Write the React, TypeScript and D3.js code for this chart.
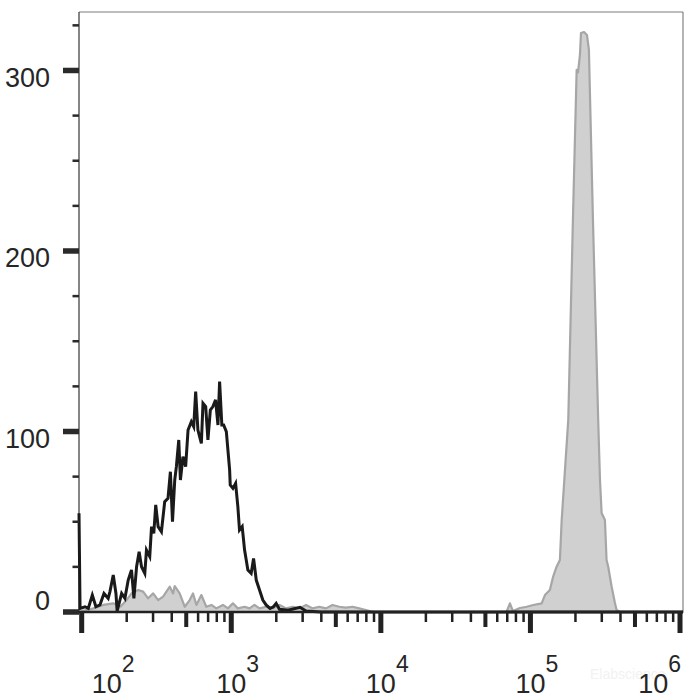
import React from "react";
import * as d3 from "d3";

// ---- Data (log10 of fluorescence intensity, event count) ----
const isotypeLogX = [
  1.982, 1.989, 2.022, 2.044, 2.071, 2.095, 2.122, 2.149, 2.177, 2.189, 2.211, 2.229, 2.237,
  2.267, 2.289, 2.311, 2.333, 2.349, 2.367, 2.384, 2.4, 2.422, 2.433, 2.455, 2.467, 2.482,
  2.495, 2.511, 2.533, 2.555, 2.577, 2.593, 2.607, 2.622, 2.633, 2.649, 2.66, 2.677, 2.695,
  2.711, 2.733, 2.749, 2.762, 2.777, 2.8, 2.811, 2.829, 2.844, 2.86, 2.877, 2.895, 2.911,
  2.922, 2.937, 2.949, 2.967, 2.989, 2.993, 3.011, 3.029, 3.044, 3.055, 3.073, 3.089, 3.111,
  3.133, 3.149, 3.167, 3.189, 3.211, 3.233, 3.259, 3.282, 3.3, 3.322, 3.38, 3.459, 3.5, 3.6,
  6.02,
];
const isotypeCount = [
  54.7, 2.0, 2.9, 2.0, 9.4, 2.9, 3.9, 10.3, 7.6, 11.3, 20.5, 10.3, 0.5,
  10.3, 7.6, 17.7, 23.3, 7.6, 25.1, 33.4, 25.1, 21.4, 34.3, 30.7, 47.3, 43.6,
  59.3, 47.3, 44.5, 61.1, 63.0, 77.7, 50.0, 73.1, 80.5, 95.3, 73.1, 86.1, 80.5,
  100.8, 105.4, 102.7, 122.1, 100.8, 93.4, 115.6, 113.8, 95.3, 111.9, 113.8, 117.5, 103.6,
  127.6, 103.6, 103.6, 99.9, 78.7, 70.4, 68.5, 71.3, 58.4, 45.4, 47.3, 34.3, 23.3,
  21.4, 29.7, 17.7, 12.2, 6.6, 3.9, 2.0, 2.9, 4.8, 1.5, 1.0, 2.6, 0.5, 0,
  0,
];

const stainedLogX = [
  1.982, 2.0, 2.078, 2.144, 2.211, 2.26, 2.3, 2.333, 2.378, 2.411, 2.444, 2.478, 2.511,
  2.544, 2.589, 2.611, 2.622, 2.655, 2.689, 2.722, 2.744, 2.767, 2.8, 2.833, 2.867, 2.9,
  2.944, 2.978, 3.011, 3.044, 3.089, 3.122, 3.155, 3.189, 3.233, 3.278, 3.322, 3.367, 3.411,
  3.455, 3.5, 3.544, 3.589, 3.633, 3.677, 3.722, 3.766, 3.811, 3.855, 3.9, 3.95, 4.84,
  4.863, 4.883, 4.93, 4.975, 5.019, 5.075, 5.097, 5.13, 5.152, 5.175, 5.197, 5.209, 5.231,
  5.253, 5.284, 5.309, 5.318, 5.331, 5.338, 5.358, 5.378, 5.391, 5.418, 5.453, 5.465, 5.476,
  5.498, 5.509, 5.52, 5.543, 5.565, 5.576, 5.6, 6.02,
];
const stainedCount = [
  0, 0.5, 2.0, 3.9, 4.8, 3.0, 6.6, 10.3, 12.2, 11.3, 7.6, 10.3, 6.6,
  8.5, 14.0, 10.3, 14.4, 10.3, 2.9, 6.6, 10.3, 3.9, 9.4, 2.9, 3.9, 2.0,
  3.9, 2.0, 4.8, 2.0, 2.9, 2.0, 3.9, 2.0, 2.9, 2.0, 3.9, 2.0, 2.9,
  2.0, 3.9, 2.0, 2.9, 2.0, 3.9, 2.9, 2.4, 2.9, 2.0, 1.1, 0, 0,
  4.8, 0.5, 2.2, 2.9, 3.9, 4.8, 9.4, 12.2, 19.6, 25.1, 28.8, 51.0, 78.7,
  106.4, 217.2, 300.3, 299.0, 308.6, 320.8, 321.3, 319.7, 311.4, 217.2, 106.4, 73.1, 54.8,
  51.0, 28.8, 25.1, 14.0, 5.0, 1.1, 0, 0,
];

const yTickValues = [0, 25, 50, 75, 100, 125, 150, 175, 200, 225, 250, 275, 300, 325];
const yTickLabels = ["0", "100", "200", "300"];
const xDecades = [2, 3, 4, 5, 6];
const watermark = "Elabscience";

// ---- Layout ----
const W = 700;
const H = 700;
const plotLeft = 79;
const plotRight = 683;
const plotTop = 12;
const plotBottom = 612;
const FONT = "'Liberation Sans', Arial, sans-serif";

export default function App() {
  const x = d3
    .scaleLog()
    .domain([Math.pow(10, 1.982), Math.pow(10, 6.02)])
    .range([plotLeft, plotRight]);
  const y = d3.scaleLinear().domain([0, 332.4]).range([plotBottom, plotTop]);

  const stained = stainedLogX.map((l, i) => ({ v: Math.pow(10, l), c: stainedCount[i] }));
  const isotype = isotypeLogX.map((l, i) => ({ v: Math.pow(10, l), c: isotypeCount[i] }));

  const area = d3
    .area<{ v: number; c: number }>()
    .x((d) => x(d.v))
    .y0(y(0))
    .y1((d) => y(d.c));
  const line = d3
    .line<{ v: number; c: number }>()
    .x((d) => x(d.v))
    .y((d) => y(d.c));

  const xTicks = x.ticks();
  const isPow10 = (v: number) => Math.abs(Math.log10(v) - Math.round(Math.log10(v))) < 1e-6;
  const isFive = (v: number) => {
    const m = v / Math.pow(10, Math.floor(Math.log10(v) + 1e-9));
    return Math.abs(m - 5) < 1e-6;
  };

  return (
    <svg
      width={W}
      height={H}
      style={{ position: "absolute", left: 0, top: 0, background: "#fff" }}
      fontFamily={FONT}
    >
      <rect x={0} y={0} width={W} height={H} fill="#fff" />
      {/* watermark (faint, behind) */}
      <text x={590} y={679} fontSize={14} fill="#f2f2f2">
        {watermark}
      </text>

      {/* frame */}
      <line x1={plotLeft} x2={plotRight} y1={plotTop} y2={plotTop} stroke="#7a7a7a" strokeWidth={1} />
      <line x1={plotRight} x2={plotRight} y1={plotTop} y2={plotBottom} stroke="#6a6a6a" strokeWidth={1} />
      <line x1={plotLeft} x2={plotLeft} y1={plotTop} y2={plotBottom} stroke="#444" strokeWidth={1.3} />

      {/* stained histogram */}
      <path d={area(stained) || ""} fill="#d0d0d0" stroke="#a6a6a6" strokeWidth={2.2} strokeLinejoin="round" />
      {/* isotype control */}
      <path d={line(isotype) || ""} fill="none" stroke="#1a1a1a" strokeWidth={3} strokeLinejoin="miter" />

      {/* bottom axis line */}
      <line x1={plotLeft} x2={plotRight} y1={plotBottom} y2={plotBottom} stroke="#222" strokeWidth={2.5} />

      {/* x ticks */}
      {xTicks.map((t, i) => {
        const major = isPow10(t);
        const mid = !major && isFive(t);
        const w = major ? 5 : mid ? 4 : 2.5;
        const len = major ? 20 : mid ? 14 : 9;
        return (
          <rect
            key={"xt" + i}
            x={x(t) - w / 2}
            y={plotBottom + 1}
            width={w}
            height={len}
            fill="#222"
          />
        );
      })}

      {/* y ticks */}
      {yTickValues.map((t, i) => {
        const major = t % 100 === 0;
        const h = major ? 5.5 : 2.5;
        const len = major ? 16 : 6.5;
        return (
          <rect key={"yt" + i} x={plotLeft - len} y={y(t) - h / 2} width={len} height={h} fill="#2a2a2a" />
        );
      })}

      {/* y labels */}
      {yTickLabels.map((s) => {
        const v = +s;
        return (
          <text
            key={"yl" + s}
            x={50}
            y={y(v) + (v === 0 ? -9 : 9)}
            textAnchor="end"
            dominantBaseline="middle"
            fontSize={27}
            fill="#262626"
          >
            {s}
          </text>
        );
      })}

      {/* x labels */}
      {xDecades.map((p, i) => {
        const tx = x(Math.pow(10, p));
        const first = i === 0;
        const last = i === xDecades.length - 1;
        const anchor = last ? "end" : "start";
        const xx = first ? tx + 10 : last ? tx + 1 : tx - 15;
        return (
          <text key={"xl" + p} x={xx} y={693} textAnchor={anchor} fontSize={27} fill="#262626">
            10
            <tspan dy={-21} fontSize={23}>
              {String(p)}
            </tspan>
          </text>
        );
      })}
    </svg>
  );
}
